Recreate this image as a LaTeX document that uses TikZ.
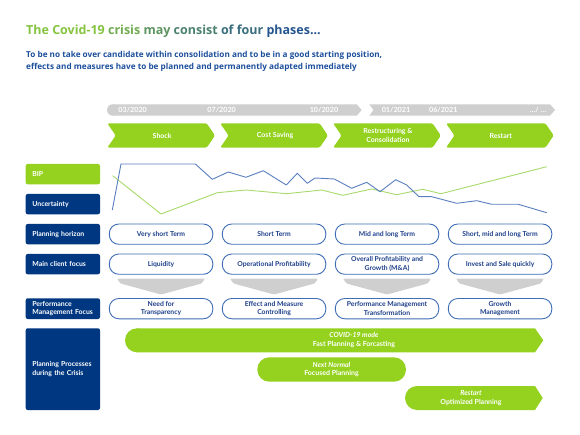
\documentclass[tikz,border=0pt]{standalone}
\usepackage{fontspec}
\setmainfont{Lato}
\newfontfamily\headfont{Open Sans}
\definecolor{cdark}{HTML}{003781}
\definecolor{cgreen}{HTML}{94D21F}
\definecolor{cgray}{HTML}{CFCFCF}
\definecolor{cborder}{HTML}{3E6DB5}
\definecolor{ctext}{HTML}{1D3F8A}
\definecolor{lblue}{HTML}{5A7FC0}
\definecolor{lgreen}{HTML}{A8DA6C}
\definecolor{tg}{HTML}{86C440}
\definecolor{tb}{HTML}{24558F}
\definecolor{csub}{HTML}{1C4F9C}
\begin{document}
\begin{tikzpicture}[x=1pt,y=-1pt,
  lbl/.style={fill=cdark, rounded corners=2pt, minimum width=74.3pt, minimum height=20.3pt,
    inner xsep=6.6pt, inner ysep=0pt, text width=61pt, align=left, text=white,
    font=\bfseries\fontsize{6.9}{8.4}\selectfont},
  pill/.style={draw=cborder, line width=0.9pt, fill=white, rounded corners=9.5pt,
    minimum width=103.5pt, minimum height=20.3pt, inner sep=1pt, align=center, text=ctext,
    font=\bfseries\fontsize{6.8}{8.4}\selectfont},
  phasetxt/.style={text=white, align=center, font=\bfseries\fontsize{7}{8.4}\selectfont},
  datetxt/.style={text=white, font=\bfseries\fontsize{7.2}{8}\selectfont},
  bartxt/.style={text=white, align=center, font=\bfseries\fontsize{7}{8.7}\selectfont},
  chartline/.style={line width=0.9pt, line join=round}
]
\useasboundingbox[fill=white] (0,0) rectangle (580,435);

% title
\node[anchor=base west, inner sep=0pt, font=\headfont\bfseries\fontsize{12.5}{14}\selectfont] (title) at (26,34.3)
 {\textcolor{tg}{The Covid-19} \textcolor{tb!22!tg}{crisis} \textcolor{tb!42!tg}{may} \textcolor{tb!60!tg}{consist} \textcolor{tb!78!tg}{of four} \textcolor{tb}{phases...}};
\node[anchor=base west, inner sep=0pt, text=csub, font=\headfont\bfseries\fontsize{8.2}{10}\selectfont] (sub1) at (26,57.3)
 {To be no take over candidate within consolidation and to be in a good starting position,};
\node[anchor=base west, inner sep=0pt, text=csub, font=\headfont\bfseries\fontsize{8.2}{10}\selectfont] (sub2) at (26,69.5)
 {effects and measures have to be planned and permanently adapted immediately};

% timeline gray bar
\fill[cgray] (112.7,110) circle[radius=5.7];
\fill[cgray] (112.7,104.3) -- (356.7,104.3) -- (361.7,110) -- (356.7,115.7) -- (112.7,115.7) -- cycle;
\fill[cgray] (369.3,104.3) -- (550,104.3) -- (555,110) -- (550,115.7) -- (369.3,115.7) -- (373.5,110) -- cycle;
\node[datetxt] (d1) at (132.7,110) {03/2020};
\node[datetxt] (d2) at (221.7,110) {07/2020};
\node[datetxt] (d3) at (324,110) {10/2020};
\node[datetxt] (d4) at (396,110) {01/2021};
\node[datetxt] (d5) at (443.3,110) {06/2021};
\node[datetxt] (d6) at (538,110) {\ldots/ \ldots};

% phase chevrons
\foreach \i/\t in {0/{Shock},1/{Cost Saving},2/{Restructuring \&\\Consolidation},3/{Restart}}{
  \pgfmathsetmacro{\xa}{107.3+112.9*\i}
  \pgfmathsetmacro{\xb}{\xa+107.7}
  \fill[cgreen, rounded corners=1.5pt] (\xa,123.3) -- (\xb-8.3,123.3) -- (\xb,135.5) -- (\xb-8.3,147.7) -- (\xa,147.7) -- (\xa+8.4,135.5) -- cycle;
  \node[phasetxt] (ph\i) at ({(\xa+\xb)/2+1},135.5) {\t};
}

% row labels
\node[lbl, fill=cgreen] (lbip) at (62.85,174.15) {BIP};
\node[lbl] (lunc) at (62.85,204.15) {Uncertainty};
\node[lbl] (lph) at (62.85,234.15) {Planning horizon};
\node[lbl] (lmcf) at (62.85,264.15) {Main client focus};
\node[lbl, minimum height=20.7pt] (lpmf) at (62.85,308.65) {Performance\\Management Focus};
\node[lbl, minimum height=81.7pt, font=\bfseries\fontsize{6.9}{9}\selectfont] (lpp) at (62.85,369.15) {Planning Processes\\during the Crisis};

% chart lines
\draw[chartline, lgreen] (112.7,175.7) -- (161,214) -- (217.3,192.7) -- (246,190) -- (286.7,193.7) -- (321.7,190) -- (342.7,195.3) -- (371.7,189) -- (396.7,194.7) -- (422.7,189.3) -- (441,193.7) -- (546.7,166.7);
\draw[chartline, lblue] (112.3,210) -- (121,164) -- (195.3,164) -- (212.3,179.3) -- (228.3,172) -- (246,177.3) -- (263.3,170.7) -- (286.3,185) -- (297.3,173.3) -- (307.3,183.3) -- (315,178) -- (334.3,179) -- (351.7,188.3) -- (366.7,182.3) -- (380,191.7) -- (395.7,179.7) -- (406.7,185) -- (419,196.7) -- (431.7,196.7) -- (456.7,203.3) -- (476.7,200.7) -- (491.7,204.3) -- (518.3,204.3) -- (546.7,212.7);

% pills
\foreach \i/\a/\b/\c in {0/{Very short Term}/{Liquidity}/{Need for\\Transparency},
                         1/{Short Term}/{Operational Profitability}/{Effect and Measure\\Controlling},
                         2/{Mid and long Term}/{Overall Profitability and\\Growth (M\&A)}/{Performance Management\\Transformation},
                         3/{Short, mid and long Term}/{Invest and Sale quickly}/{Growth\\Management}}{
  \pgfmathsetmacro{\cx}{161.05+113*\i}
  \node[pill] (ph\i b) at (\cx,234.15) {\a};
  \node[pill] (mc\i b) at (\cx,264.15) {\b};
  \node[pill] (pm\i b) at (\cx,308.65) {\c};
  \fill[cgray, rounded corners=1pt] (\cx-44,278.6) -- (\cx+44,278.6) -- (\cx+40.5,283.5) -- (\cx,294.5) -- (\cx-40.5,283.5) -- cycle;
}

% planning process bars
\fill[cgreen] (137,340.3) circle[radius=12];
\fill[cgreen] (137,328.3) -- (535,328.3) -- (543.3,340.3) -- (535,352.3) -- (137,352.3) -- cycle;
\node[bartxt] (b1) at (354,340.3) {\textit{COVID-19 mode}\\Fast Planning \& Forcasting};

\node[fill=cgreen, rounded corners=12pt, minimum width=148.7pt, minimum height=24.4pt, inner sep=0pt] (b2box) at (331.65,369.5) {};
\node[bartxt] (b2) at (331.5,369.5) {\textit{Next Normal}\\Focused Planning};

\fill[cgreen] (417,398) circle[radius=12];
\fill[cgreen] (417,386) -- (535,386) -- (542.7,398) -- (535,410) -- (417,410) -- cycle;
\node[bartxt] (b3) at (471,398) {\textit{Restart}\\Optimized Planning};
\end{tikzpicture}
\end{document}
